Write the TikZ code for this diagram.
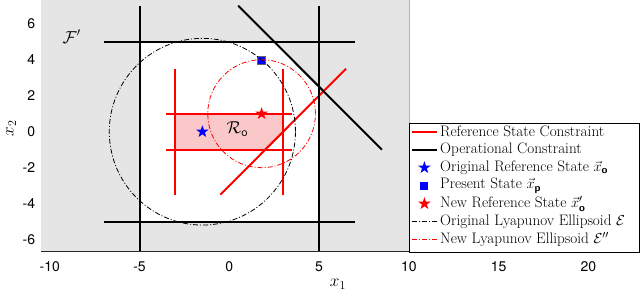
\documentclass[tikz,border=0pt]{standalone}
\usepackage{amsmath}
\usepackage{fontspec}
\newfontfamily\tickfont{TeX Gyre Heros}
\usetikzlibrary{shapes.geometric}
\definecolor{bggray}{RGB}{229,229,229}
\definecolor{pinkfill}{RGB}{250,200,200}
\definecolor{mblue}{RGB}{0,0,255}
\definecolor{mred}{RGB}{255,0,0}
\tikzset{
  opline/.style={line width=2pt, black},
  refline/.style={line width=2pt, mred},
  dashdotline/.style={line width=0.8pt, dash pattern=on 5pt off 2pt on 1pt off 2pt},
  starmark/.style={star, star points=5, star point ratio=2.5, inner sep=0pt, minimum size=13pt, draw=none},
  squaremark/.style={rectangle, inner sep=0pt, minimum size=8pt, fill=mblue},
  ticklab/.style={font=\tickfont\fontsize{14}{16}\selectfont, inner sep=0pt},
  legtext/.style={font=\fontsize{15.2}{17}\selectfont, anchor=west, inner sep=0pt},
  biglab/.style={font=\fontsize{18}{20}\selectfont, inner sep=0pt}
}
\begin{document}
\begin{tikzpicture}[x=17.95pt,y=18pt]
\useasboundingbox (-12.774,-9.239) rectangle (22.880,7.317);
\begin{scope}
\clip (-10.49,-6.63) rectangle (22.82,7.317);
% feasible region shading
\fill[bggray] (-10.49,-6.63) rectangle (10,7.317);
\draw[black!30, line width=0.6pt] (10,7.317) -- (10,-6.63);
\fill[white] (-5,-5) -- (5,-5) -- (5,2.5) -- (2.5,5) -- (-5,5) -- cycle;
\fill[pinkfill] (-3,-1) -- (2,-1) -- (3,0) -- (3,1) -- (-3,1) -- cycle;
% reference state constraints
\draw[refline] (-3,-3.5) -- (-3,3.5);
\draw[refline] (3,-3.5) -- (3,3.5);
\draw[refline] (-3.5,1) -- (3.5,1);
\draw[refline] (-3.5,-1) -- (3.5,-1);
\draw[refline] (-0.5,-3.5) -- (6.5,3.5);
% operational constraints
\draw[opline] (-5,-7) -- (-5,7);
\draw[opline] (5,-7) -- (5,7);
\draw[opline] (-7,5) -- (7,5);
\draw[opline] (-7,-5) -- (7,-5);
\draw[opline] (0.5,7) -- (8.5,-1);
% states
\node[starmark, fill=mblue] (xo) at (-1.5,0) {};
\node[squaremark, draw=black!60, line width=0.3pt] (xp) at (1.8,4) {};
\node[starmark, fill=mred] (xn) at (1.8,1) {};
% ellipsoids
\draw[dashdotline, black] (xo.center) circle[radius=5.186];
\draw[dashdotline, mred] (xn.center) circle[radius=3];
\end{scope}
% axis line
\draw[black!85, line width=0.8pt] (-10.49,-6.63) -- (22.82,-6.63);
% labels in plot
\node[biglab] (Fp) at (-8.78,5.28) {$\mathcal{F}'$};
\node[biglab] (Ro) at (0.45,0.15) {$\mathcal{R}_{\mathsf{o}}$};
% tick labels
\foreach \v/\t in {-10/-10,-5/-5,0/0,5/5,10/10,15/15,20/20}
  \node[ticklab] (xt\t) at (\v,-7.5) {\t};
\foreach \v in {6,4,2,0,-2,-4,-6}
  \node[ticklab, anchor=east] (yt\v) at (-10.81,\v) {\v};
\node[biglab] (xlab) at (6.05,-8.47) {$x_1$};
\node[biglab, rotate=90] (ylab) at (-12.15,0.2) {$x_2$};
% legend
\node[draw=black, line width=0.8pt, fill=white, minimum width=12.82*17.95pt, minimum height=7.18*18pt, inner sep=0pt, anchor=north west] (leg) at (10.0,0.5) {};
\coordinate (l1a) at (10.18,0); \coordinate (l1b) at (11.57,0);
\draw[refline] (l1a) -- (l1b);
\node[legtext] (t1) at (11.74,0) {Reference State Constraint};
\coordinate (l2a) at (10.18,-1); \coordinate (l2b) at (11.57,-1);
\draw[opline] (l2a) -- (l2b);
\node[legtext] (t2) at (11.74,-1) {Operational Constraint};
\node[starmark, fill=mblue] (m3) at (10.87,-2) {};
\node[legtext] (t3) at (11.74,-2) {Original Reference State $\vec{x}_{\textsf{\bfseries o}}$};
\node[squaremark] (m4) at (10.87,-3) {};
\node[legtext] (t4) at (11.74,-3) {Present State $\vec{x}_{\textsf{\bfseries p}}$};
\node[starmark, fill=mred] (m5) at (10.87,-4) {};
\node[legtext] (t5) at (11.74,-4) {New Reference State $\vec{x}'_{\textsf{\bfseries o}}$};
\coordinate (l6a) at (10.18,-5); \coordinate (l6b) at (11.57,-5);
\draw[dashdotline, black] (l6a) -- (l6b);
\node[legtext] (t6) at (11.74,-5) {Original Lyapunov Ellipsoid $\mathcal{E}$};
\coordinate (l7a) at (10.18,-6); \coordinate (l7b) at (11.57,-6);
\draw[dashdotline, mred] (l7a) -- (l7b);
\node[legtext] (t7) at (11.74,-6) {New Lyapunov Ellipsoid $\mathcal{E}''$};
\end{tikzpicture}
\end{document}
